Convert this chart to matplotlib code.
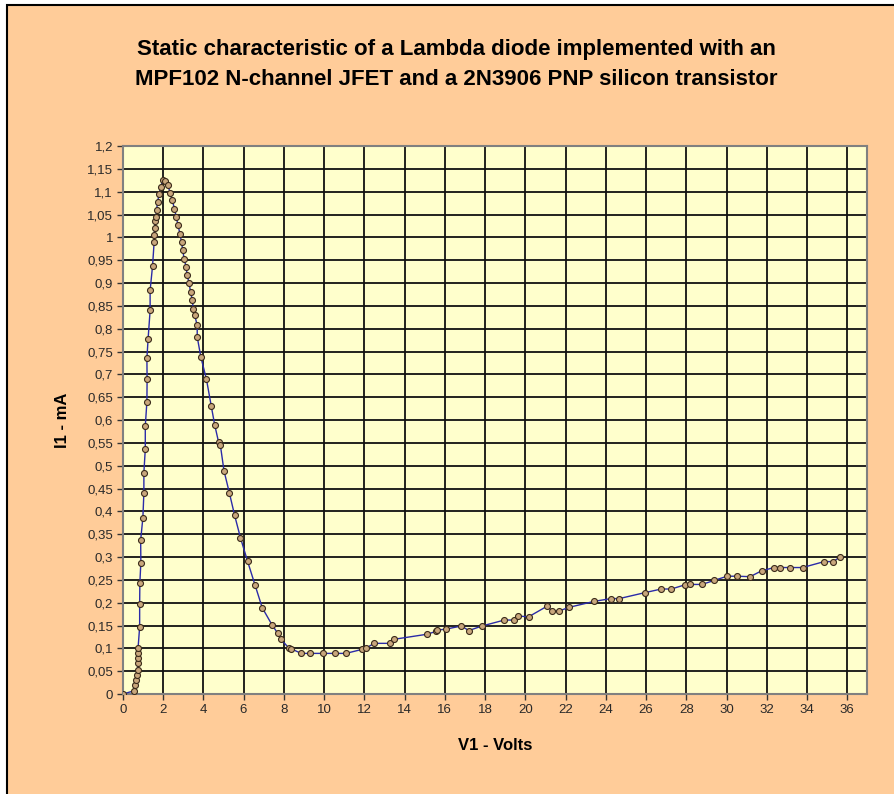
import numpy as np
import matplotlib
matplotlib.use('Agg')
import matplotlib.pyplot as plt
from matplotlib.patches import Rectangle

# Lambda diode static characteristic
v1_volts = [0, 0.56, 0.61, 0.66, 0.70, 0.74, 0.74, 0.75, 0.75, 0.76,
            0.84, 0.84, 0.85, 0.90, 0.89, 1.00, 1.05, 1.05, 1.12, 1.12,
            1.20, 1.21, 1.20, 1.26, 1.36, 1.36, 1.48, 1.56, 1.57, 1.58,
            1.60, 1.64, 1.68, 1.73, 1.81, 1.88, 2.00, 2.10,
            2.24, 2.36, 2.46, 2.57, 2.66, 2.75, 2.84, 2.92, 2.98, 3.05,
            3.15, 3.20, 3.30, 3.37, 3.46, 3.50, 3.58, 3.70, 3.70, 3.88,
            4.16, 4.40, 4.57, 4.76, 4.85, 5.03, 5.30, 5.56, 5.85, 6.20,
            6.57, 6.93, 7.41, 7.70, 7.87, 8.24, 8.38, 8.86, 9.30, 9.93,
            10.55, 11.09, 11.91, 12.07, 12.49, 13.30, 13.50, 15.13, 15.55, 15.62,
            16.04, 16.83, 17.19, 17.85, 18.96, 19.42, 19.63, 20.16, 21.07, 21.35,
            21.68, 22.19, 23.43, 24.26, 24.67, 25.94, 26.76, 27.26, 27.92, 28.17,
            28.78, 29.40, 30.03, 30.52, 31.17, 31.75, 32.37, 32.65, 33.15, 33.78,
            34.85, 35.31, 35.62]
i1_ma = [0, 0.007, 0.020, 0.031, 0.042, 0.053, 0.067, 0.078, 0.089, 0.100,
         0.147, 0.197, 0.243, 0.288, 0.337, 0.386, 0.440, 0.485, 0.536, 0.587,
         0.640, 0.689, 0.735, 0.778, 0.840, 0.884, 0.937, 0.990, 1.005, 1.020,
         1.035, 1.045, 1.060, 1.077, 1.096, 1.110, 1.126, 1.123,
         1.114, 1.097, 1.081, 1.063, 1.044, 1.026, 1.008, 0.990, 0.972, 0.953,
         0.935, 0.917, 0.899, 0.880, 0.862, 0.844, 0.829, 0.807, 0.782, 0.738,
         0.689, 0.630, 0.589, 0.552, 0.545, 0.489, 0.440, 0.391, 0.342, 0.291,
         0.239, 0.189, 0.152, 0.133, 0.120, 0.101, 0.099, 0.089, 0.089, 0.089,
         0.089, 0.089, 0.098, 0.100, 0.111, 0.111, 0.120, 0.131, 0.137, 0.140,
         0.142, 0.149, 0.139, 0.149, 0.162, 0.162, 0.171, 0.169, 0.192, 0.182,
         0.182, 0.190, 0.203, 0.209, 0.209, 0.222, 0.230, 0.230, 0.239, 0.240,
         0.240, 0.249, 0.258, 0.258, 0.257, 0.270, 0.277, 0.277, 0.277, 0.277,
         0.290, 0.290, 0.300]

x_ticks = [0, 2, 4, 6, 8, 10, 12, 14, 16, 18, 20, 22, 24, 26, 28, 30, 32, 34, 36]
y_ticks = [0, 0.05, 0.1, 0.15, 0.2, 0.25, 0.3, 0.35, 0.4, 0.45, 0.5, 0.55, 0.6,
           0.65, 0.7, 0.75, 0.8, 0.85, 0.9, 0.95, 1, 1.05, 1.1, 1.15, 1.2]
y_labels = ['0', '0,05', '0,1', '0,15', '0,2', '0,25', '0,3', '0,35', '0,4', '0,45',
            '0,5', '0,55', '0,6', '0,65', '0,7', '0,75', '0,8', '0,85', '0,9', '0,95',
            '1', '1,05', '1,1', '1,15', '1,2']

plt.rcParams['font.family'] = ['Liberation Sans', 'DejaVu Sans']

fig = plt.figure(figsize=(8.94, 7.94), dpi=100, facecolor='white')
# peach chart area with the black frame at top/left
fig.patches.append(Rectangle((7/894, -0.1), 1.2, 1.1 - 5/794, transform=fig.transFigure,
                             facecolor='#FFCC99', edgecolor='black', lw=1.5, zorder=-10))

ax = fig.add_axes([0.1373, 0.1259, 0.8330, 0.6902])
ax.set_facecolor('#FFFFCC')
ax.plot(v1_volts, i1_ma, color='#2B2BA8', lw=1.0, marker='o', markersize=4.3,
        markerfacecolor='#C9A77C', markeredgecolor='#3A2A1A', markeredgewidth=0.8,
        zorder=3)

ax.set_xlim(0, 37)
ax.set_ylim(0, 1.2)
ax.set_xticks(x_ticks)
ax.set_xticklabels([str(t) for t in x_ticks])
ax.set_yticks(y_ticks)
ax.set_yticklabels(y_labels)
ax.grid(True, color='#111111', lw=1.3)
ax.set_axisbelow(True)
ax.tick_params(direction='out', length=4, width=1, color='#333333',
               labelsize=9.5, labelcolor='#2a2a2a', pad=3)
for s in ax.spines.values():
    s.set_color('#808080')
    s.set_linewidth(1.5)

ax.set_xlabel('V1 - Volts', fontsize=12, fontweight='bold', labelpad=16)
ax.set_ylabel('I1 - mA', fontsize=12, fontweight='bold', labelpad=12)

fig.text(0.5106, 0.919, 'Static characteristic of a Lambda diode implemented with an\n'
         'MPF102 N-channel JFET and a 2N3906 PNP silicon transistor',
         ha='center', va='center', fontsize=16, fontweight='bold', linespacing=1.55)

fig.savefig('out.png', dpi=100, facecolor=fig.get_facecolor())
